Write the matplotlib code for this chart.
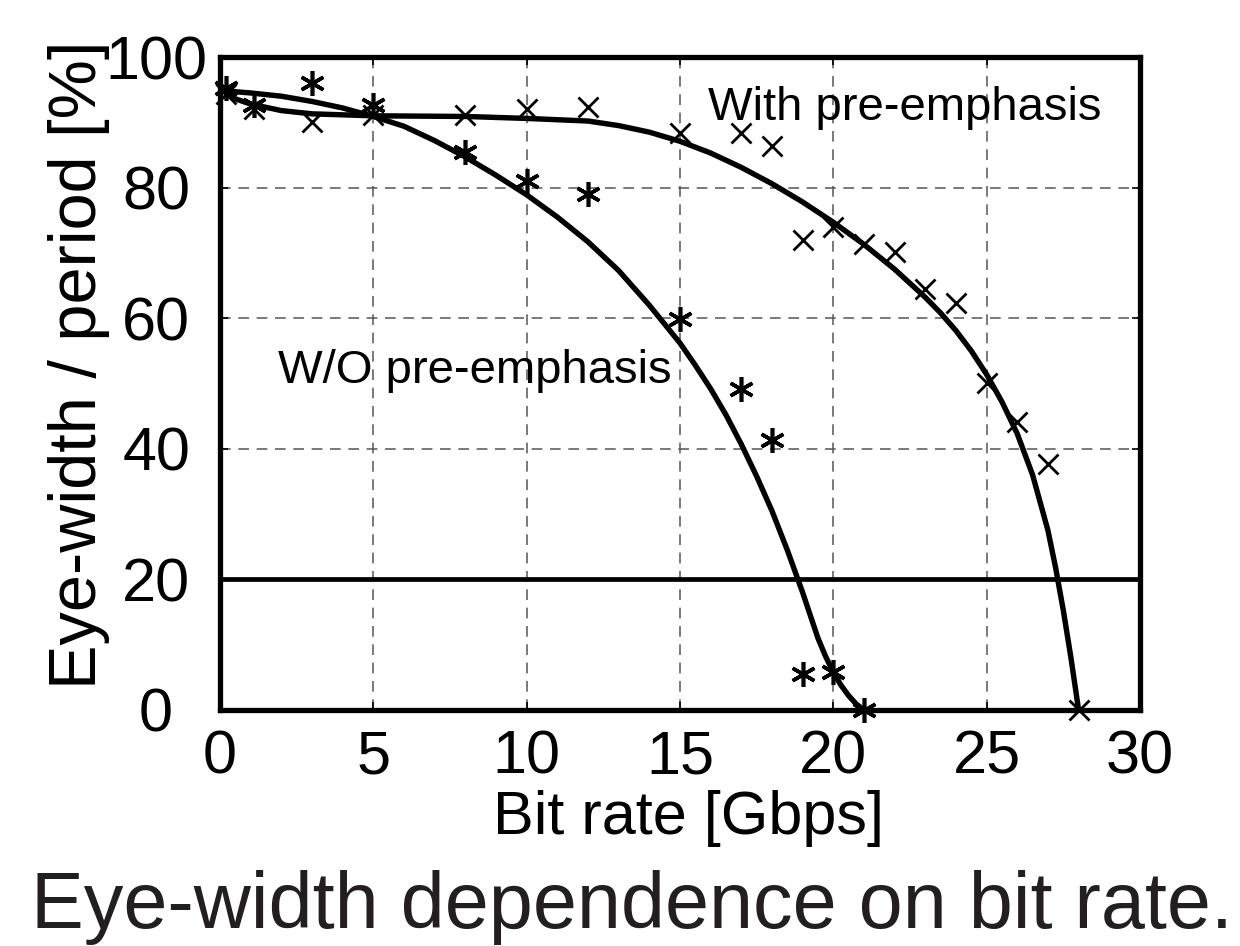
import numpy as np
import matplotlib.pyplot as plt
from matplotlib.ticker import MultipleLocator

plt.rcParams['font.family'] = ['Liberation Sans', 'DejaVu Sans']

# measured points, with pre-emphasis (x markers)
rate_with = [0.2, 1.1, 3.0, 5.0, 8.0, 10.0, 12.0, 15.0, 17.0, 18.0, 19.0, 20.0,
             21.0, 22.0, 23.0, 24.0, 25.0, 26.0, 27.0, 28.0]
eye_with = [94.3, 92.0, 90.0, 91.2, 91.2, 92.0, 92.4, 88.4, 88.4, 86.3, 72.0, 74.0,
            71.3, 70.2, 64.4, 62.4, 50.1, 44.1, 37.7, 0.0]

# measured points, without pre-emphasis (asterisks)
rate_wo = [0.2, 1.1, 3.0, 5.0, 8.0, 10.0, 12.0, 15.0, 17.0, 18.0, 19.0, 20.0, 21.0]
eye_wo = [95.3, 92.7, 96.1, 92.7, 85.4, 81.0, 79.1, 59.9, 49.2, 41.4, 5.5, 5.8, 0.0]

# fitted trend lines
fit_rate_with = [0.2, 0.5, 1, 2, 3, 5, 8, 10, 12, 13, 14, 15, 16, 17, 18, 19, 20, 21,
                 22, 23, 23.5, 24, 24.5, 25, 25.5, 26, 26.5, 27, 27.25, 27.5, 27.75, 28]
fit_eye_with = [94.5, 93.6, 92.8, 91.8, 91.3, 91.0, 90.9, 90.6, 90.2, 89.5, 88.5, 87.1,
                85.3, 83.1, 80.6, 77.8, 74.7, 71.3, 67.5, 63.2, 60.8, 58.1, 55.0, 51.4,
                47.2, 42.3, 36.0, 27.5, 21.8, 15.3, 8.0, 0.0]

fit_rate_wo = [0.2, 1, 2, 3, 4, 5, 6, 7, 8, 9, 10, 11, 12, 13, 14, 15, 15.5, 16, 16.5,
               17, 17.5, 18, 18.5, 19, 19.5, 19.75, 20, 20.25, 20.5, 20.75, 21]
fit_eye_wo = [94.8, 94.5, 94.0, 93.2, 92.2, 90.9, 89.4, 87.2, 84.7, 81.9, 78.9, 75.5,
              71.7, 67.3, 62.0, 56.2, 52.8, 49.2, 45.2, 40.7, 35.8, 30.5, 24.5, 18.0,
              11.0, 8.2, 5.8, 3.8, 2.2, 0.9, 0.0]

threshold = 20

fig = plt.figure(figsize=(12.4, 9.46), dpi=100)
ax = fig.add_axes([0.1774, 0.2495, 0.7419, 0.6902])

ax.plot(fit_rate_with, fit_eye_with, color='black', linewidth=3.9, zorder=3,
        solid_joinstyle='round')
ax.plot(fit_rate_wo, fit_eye_wo, color='black', linewidth=3.9, zorder=3,
        solid_joinstyle='round')
ax.axhline(threshold, color='black', linewidth=3.4, zorder=3)

ax.plot(rate_with, eye_with, linestyle='none', marker='x', markersize=15,
        markeredgewidth=2.0, color='black', clip_on=False, zorder=4)
ax.plot(rate_wo, eye_wo, linestyle='none', marker=(6, 2, 0), markersize=18,
        markeredgewidth=2.6, color='black', clip_on=False, zorder=4)

ax.set_xlim(0, 30)
ax.set_ylim(0, 100)
ax.xaxis.set_major_locator(MultipleLocator(5))
ax.yaxis.set_major_locator(MultipleLocator(20))

ax.grid(True, color='#555555', linewidth=1.1, linestyle=(0, (7, 5)))
ax.set_axisbelow(True)

for s in ax.spines.values():
    s.set_linewidth(3.8)

ax.tick_params(direction='in', length=6, width=1.2, right=True, top=True,
               labelsize=44, pad=14)
for lbl in ax.get_yticklabels():
    lbl.set_horizontalalignment('center')
ax.tick_params(axis='y', pad=46)

ax.set_xlabel('Bit rate [Gbps]', fontsize=44, va='top')
ax.xaxis.set_label_coords(0.509, -0.122)
ax.set_ylabel('Eye-width / period [%]', fontsize=48, va='center')
ax.yaxis.set_label_coords(-0.153, 0.528)

ax.text(15.9, 90.4, 'With pre-emphasis', fontsize=34, ha='left', va='baseline')
ax.text(1.9, 50.1, 'W/O pre-emphasis', fontsize=34, ha='left', va='baseline')

fig.text(0.51, 0.019, 'Eye-width dependence on bit rate.', fontsize=57,
         color='#231f20', ha='center', va='baseline')

fig.savefig('out.png', dpi=100)
